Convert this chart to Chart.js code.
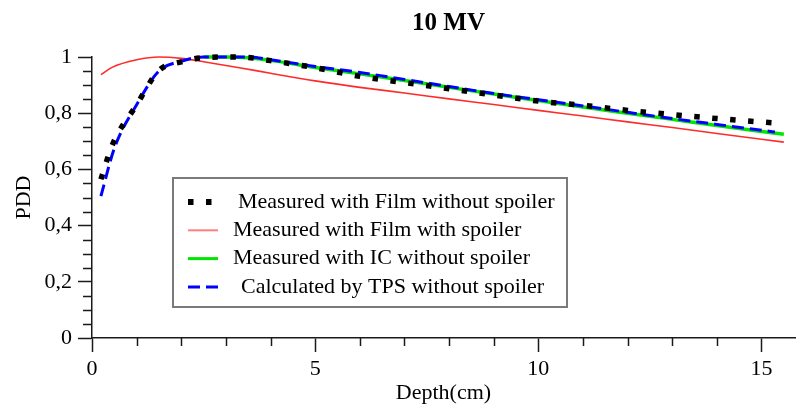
<!DOCTYPE html>
<html>
<head>
<meta charset="utf-8">
<script src="https://cdn.jsdelivr.net/npm/chart.js@4/dist/chart.umd.min.js"></script>
<style>
html,body{margin:0;padding:0;background:#fff;}
#wrap{width:796px;height:408px;}
</style>
</head>
<body>
<div id="wrap"><canvas id="c" width="796" height="408"></canvas></div>
<script>
// ---- data ----
const chartTitle = '10 MV';
const xTitle = 'Depth(cm)';
const yTitle = 'PDD';
const seriesLabels = [
  'Measured with Film without spoiler',
  'Measured with Film with spoiler',
  'Measured with IC without spoiler',
  'Calculated by TPS without spoiler'
];

const depthFilm = [0.2, 0.45, 1.0, 1.5, 2.0, 2.5, 3.0, 3.5, 4.0, 5.0, 6.0, 7.0, 8.0, 9.0, 10.0, 11.0, 12.0, 13.0, 14.0, 15.3];
const filmNoSpoiler = [0.565, 0.685, 0.83, 0.952, 0.983, 0.998, 1.0, 0.998, 0.987, 0.962, 0.931, 0.909, 0.887, 0.865, 0.843, 0.828, 0.81, 0.795, 0.781, 0.765];

const depthFilmSp = [0.2, 0.45, 1.0, 1.5, 2.0, 2.5, 3.3, 4.0, 5.0, 6.0, 7.0, 8.0, 9.0, 10.0, 11.0, 12.0, 13.0, 14.0, 15.5];
const filmSpoiler = [0.937, 0.963, 0.99, 1.0, 0.995, 0.983, 0.962, 0.942, 0.915, 0.892, 0.872, 0.851, 0.831, 0.81, 0.79, 0.769, 0.749, 0.728, 0.697];

const depthIC = [2.5, 3.0, 3.5, 4.0, 5.0, 6.0, 7.0, 8.0, 9.0, 10.0, 11.0, 12.0, 13.0, 14.0, 15.5];
const icNoSpoiler = [1.0, 1.0, 0.997, 0.988, 0.963, 0.94, 0.916, 0.892, 0.868, 0.845, 0.822, 0.8, 0.778, 0.756, 0.725];

const depthTPS = [0.2, 0.5, 1.0, 1.5, 2.0, 2.5, 3.0, 3.5, 4.0, 5.0, 6.0, 7.0, 8.0, 9.0, 10.0, 11.0, 12.0, 13.0, 14.0, 15.3];
const tpsNoSpoiler = [0.505, 0.675, 0.83, 0.95, 0.985, 1.0, 1.0, 1.0, 0.99, 0.966, 0.945, 0.92, 0.895, 0.87, 0.848, 0.826, 0.803, 0.781, 0.76, 0.733];

const xTicks = [0, 5, 10, 15];
const yTicks = [0, 0.2, 0.4, 0.6, 0.8, 1];
const yTickLabels = ['0', '0,2', '0,4', '0,6', '0,8', '1'];

// ---- build ----
const pts = (xs, ys) => xs.map((x, i) => ({x: x, y: ys[i]}));
const serif = '"Liberation Serif", "Times New Roman", serif';
const axisColor = '#1a1a1a';

const datasets = [
  {label: seriesLabels[0], data: pts(depthFilm, filmNoSpoiler), borderColor: '#000000',
   borderWidth: 5.5, borderDash: [5.5, 12.5], borderCapStyle: 'butt', order: 0},
  {label: seriesLabels[1], data: pts(depthFilmSp, filmSpoiler), borderColor: '#ff2a2a',
   borderWidth: 1.6, order: 3},
  {label: seriesLabels[2], data: pts(depthIC, icNoSpoiler), borderColor: '#00e600',
   borderWidth: 3.5, order: 2},
  {label: seriesLabels[3], data: pts(depthTPS, tpsNoSpoiler), borderColor: '#0000ff',
   borderWidth: 3, borderDash: [12, 6], borderCapStyle: 'butt', order: 1}
];
datasets.forEach(d => { d.showLine = true; d.pointRadius = 0; d.fill = false;
  d.cubicInterpolationMode = 'monotone'; d.clip = false; });

const minorTicks = {
  id: 'minorTicks',
  afterDraw(chart) {
    const {ctx, chartArea} = chart;
    const xs = chart.scales.x, ys = chart.scales.y;
    ctx.save();
    ctx.strokeStyle = axisColor; ctx.lineWidth = 1.5;
    ctx.beginPath();
    for (let v = 1; v <= 15; v++) {
      if (v % 5 === 0) continue;
      const px = Math.round(xs.getPixelForValue(v)) + 0.5;
      ctx.moveTo(px, chartArea.bottom); ctx.lineTo(px, chartArea.bottom + 8);
    }
    for (let k = 1; k < 20; k++) {
      if (k % 4 === 0) continue;
      const py = Math.round(ys.getPixelForValue(k * 0.05)) + 0.5;
      ctx.moveTo(chartArea.left - 9, py); ctx.lineTo(chartArea.left, py);
    }
    ctx.stroke();
    ctx.restore();
  }
};

const boxLegend = {
  id: 'boxLegend',
  afterDraw(chart) {
    const {ctx, chartArea} = chart;
    const left = chartArea.left + 81, top = chartArea.top + 121;
    const w = 394, h = 129;
    ctx.save();
    ctx.strokeStyle = '#7a7a7a'; ctx.lineWidth = 2;
    ctx.strokeRect(left, top, w, h);
    const indents = [5, 0, 0, 8];
    ctx.font = '22px ' + serif;
    ctx.textBaseline = 'middle';
    ctx.fillStyle = '#000';
    chart.data.datasets.forEach((d, i) => {
      const cy = top + 24 + i * 28.3;
      ctx.save();
      ctx.strokeStyle = d.borderColor;
      ctx.lineWidth = i === 0 ? 6 : (i === 1 ? 2 : 3);
      ctx.globalAlpha = i === 1 ? 0.6 : 1;
      ctx.setLineDash(d.borderDash || []);
      ctx.lineCap = 'butt';
      ctx.beginPath();
      ctx.moveTo(left + 15, cy); ctx.lineTo(left + 45, cy);
      ctx.stroke();
      ctx.restore();
      ctx.fillText(d.label, left + 60 + indents[i], cy);
    });
    ctx.restore();
  }
};

const shiftTitle = {
  id: 'shiftTitle',
  afterLayout(chart) {
    if (chart.titleBlock) { chart.titleBlock.left += 5; chart.titleBlock.right += 5; }
  }
};

new Chart(document.getElementById('c'), {
  type: 'scatter',
  data: {datasets: datasets},
  plugins: [minorTicks, boxLegend, shiftTitle],
  options: {
    responsive: false,
    animation: false,
    events: [],
    layout: {padding: {left: 0, right: 1, top: 0, bottom: 0}},
    plugins: {
      legend: {display: false},
      tooltip: {enabled: false},
      title: {display: true, text: chartTitle, fullSize: false, color: '#000',
        font: {family: serif, size: 25, weight: 'bold'}, padding: {top: 9, bottom: 18}}
    },
    scales: {
      x: {
        type: 'linear', min: 0, max: 15.75,
        afterBuildTicks: s => { s.ticks = xTicks.map(v => ({value: v})); },
        afterFit: s => { s.height = 70; },
        ticks: {color: '#000', font: {family: serif, size: 22}, padding: 4, maxRotation: 0,
          callback: v => String(v)},
        grid: {drawOnChartArea: false, drawTicks: true, tickLength: 14, tickColor: axisColor, tickWidth: 1.5},
        border: {display: true, color: axisColor, width: 1.5},
        title: {display: true, text: xTitle, color: '#000', font: {family: serif, size: 22},
          padding: {top: 0, bottom: 2}}
      },
      y: {
        type: 'linear', min: 0, max: 1,
        afterBuildTicks: s => { s.ticks = yTicks.map(v => ({value: v})); },
        afterFit: s => { s.width = 92; },
        ticks: {color: '#000', font: {family: serif, size: 22}, padding: 6,
          callback: (v, i) => yTickLabels[i]},
        grid: {drawOnChartArea: false, drawTicks: true, tickLength: 14, tickColor: axisColor, tickWidth: 1.5},
        border: {display: true, color: axisColor, width: 1.5},
        title: {display: true, text: yTitle, color: '#000', font: {family: serif, size: 22},
          padding: {top: 11, bottom: 0}}
      }
    }
  }
});
</script>
</body>
</html>
